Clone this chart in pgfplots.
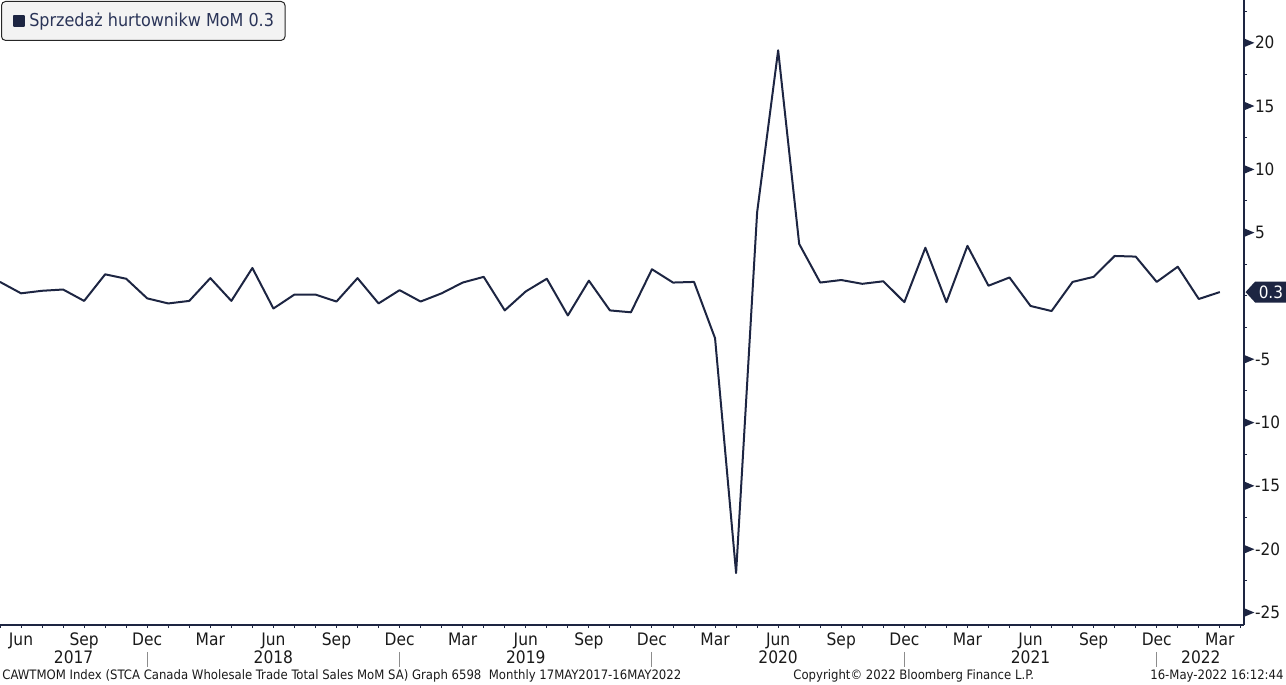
\documentclass[border=0pt]{standalone}
\usepackage{pgfplots}
\pgfplotsset{compat=1.18}
\usepackage{fontspec}
\setmainfont{DejaVu Sans Condensed}
\usetikzlibrary{shapes.symbols}
\definecolor{navy}{HTML}{1D2542}
\definecolor{txt}{HTML}{1A1A1A}
\definecolor{legtxt}{HTML}{2A3458}
\definecolor{legbg}{HTML}{F3F3F3}
\newcommand{\tri}{\tikz[baseline=0pt]\fill[navy] (0pt,0.9pt) -- (0pt,5.1pt) -- (5pt,3pt) -- cycle;\kern0.3pt}
\pgfplotstableread{
k v
0 1.1
1 0.2
2 0.4
3 0.5
4 -0.4
5 1.7
6 1.35
7 -0.2
8 -0.6
9 -0.4
10 1.4
11 -0.4
12 2.2
13 -1.0
14 0.1
15 0.1
16 -0.45
17 1.4
18 -0.6
19 0.45
20 -0.45
21 0.2
22 1.05
23 1.5
24 -1.15
25 0.35
26 1.35
27 -1.55
28 1.2
29 -1.15
30 -1.3
31 2.1
32 1.05
33 1.1
34 -3.35
35 -21.9
36 6.6
37 19.4
38 4.1
39 1.05
40 1.25
41 0.95
42 1.15
43 -0.5
44 3.8
45 -0.5
46 3.95
47 0.8
48 1.45
49 -0.8
50 -1.2
51 1.1
52 1.5
53 3.15
54 3.1
55 1.1
56 2.3
57 -0.25
58 0.3
}\datatable
\begin{document}
\begin{tikzpicture}[x=1pt,y=1pt]
\begin{axis}[
  at={(0pt,30pt)}, anchor=south west,
  scale only axis, width=622pt, height=312.5pt,
  xmin=0, xmax=59.15, ymin=-26.0, ymax=23.37,
  axis x line*=bottom, axis y line*=right,
  axis line style={navy, line width=0.6pt},
  clip=false,
  tick align=outside,
  major tick length=1.6pt,
  tick style={navy, line width=0.5pt},
  xtick={0,...,59},
  xticklabels={,Jun,,,Sep,,,Dec,,,Mar,,,Jun,,,Sep,,,Dec,,,Mar,,,Jun,,,Sep,,,Dec,,,Mar,,,Jun,,,Sep,,,Dec,,,Mar,,,Jun,,,Sep,,,Dec,,,Mar,},
  xticklabel style={font=\fontsize{8.6}{9}\selectfont, text=txt, inner sep=0pt, anchor=north, yshift=-2.2pt},
  ytick={-25,-22.5,...,22.5},
  yticklabels={{\tri-25},,{\tri-20},,{\tri-15},,{\tri-10},,{\tri-5},,,,{\tri5},,{\tri10},,{\tri15},,{\tri20},},
  yticklabel style={font=\fontsize{8.5}{9}\selectfont, text=txt, inner sep=0pt, anchor=west, xshift=-1.6pt},
  legend style={at={(0,1)}, anchor=north west, xshift=0.5pt, yshift=-0.5pt,
    rounded corners=2pt, fill=legbg, draw=black!85, line width=0.5pt,
    font=\fontsize{8.9}{10}\selectfont, text=legtxt,
    inner xsep=5.5pt, inner ysep=5.6pt,
    nodes={inner sep=0pt}},
  legend image code/.code={\fill[navy, sharp corners] (0pt,-2.6pt) rectangle (5.2pt,2.6pt); \path (7.4pt,0pt);},
]
\addplot[navy, line width=1pt, line join=round] table[x=k, y=v] {\datatable};
\addlegendentry{Sprzedaż hurtownikw MoM 0.3}
% year labels
\node[font=\fontsize{8.6}{9}\selectfont, text=txt, inner sep=0pt] at (axis cs:3.5,-26) [yshift=-16pt] {2017};
\node[font=\fontsize{8.6}{9}\selectfont, text=txt, inner sep=0pt] at (axis cs:13,-26) [yshift=-16pt] {2018};
\node[font=\fontsize{8.6}{9}\selectfont, text=txt, inner sep=0pt] at (axis cs:25,-26) [yshift=-16pt] {2019};
\node[font=\fontsize{8.6}{9}\selectfont, text=txt, inner sep=0pt] at (axis cs:37,-26) [yshift=-16pt] {2020};
\node[font=\fontsize{8.6}{9}\selectfont, text=txt, inner sep=0pt] at (axis cs:49,-26) [yshift=-16pt] {2021};
\node[font=\fontsize{8.6}{9}\selectfont, text=txt, inner sep=0pt] at (axis cs:57.1,-26) [yshift=-16pt] {2022};
\pgfplotsinvokeforeach{7,19,31,43,55}{
  \draw[black!45, line width=0.5pt] ([yshift=-13.5pt]axis cs:#1,-26) -- ([yshift=-21pt]axis cs:#1,-26);
}
\node[signal, signal to=west, signal pointer angle=95, fill=navy, text=white,
  font=\fontsize{8.5}{9}\selectfont, minimum height=10.5pt, inner xsep=1.8pt, inner ysep=0pt, anchor=west]
  at (axis cs:59.15,0.3) [xshift=0.5pt] {0.3};
\end{axis}
\node[anchor=west, font=\fontsize{6.5}{7}\selectfont, text=txt, inner sep=0pt] at (1pt,4.5pt)
  {CAWTMOM Index (STCA Canada Wholesale Trade Total Sales MoM SA) Graph 6598\ \ Monthly 17MAY2017-16MAY2022};
\node[anchor=west, font=\fontsize{6.5}{7}\selectfont, text=txt, inner sep=0pt] at (396.5pt,4.5pt)
  {Copyright© 2022 Bloomberg Finance L.P.};
\node[anchor=east, font=\fontsize{6.5}{7}\selectfont, text=txt, inner sep=0pt] at (642pt,4.5pt)
  {16-May-2022 16:12:44};
\pgfresetboundingbox
\useasboundingbox (0pt,0pt) rectangle (643pt,342.5pt);
\end{tikzpicture}
\end{document}
